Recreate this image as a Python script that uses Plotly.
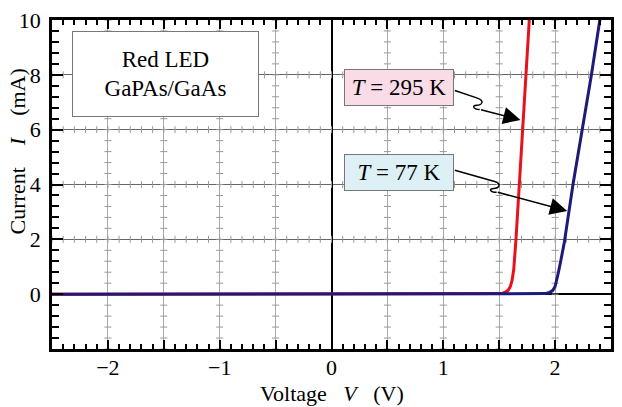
#%% IMPORTS
import numpy as np
import plotly.graph_objects as go

#%% DATA
# I-V curves of a red GaPAs/GaAs LED (V in volts, I in mA)
red_v = [-2.5, 1.48, 1.52, 1.55, 1.58, 1.60, 1.615, 1.63, 1.64, 1.65, 1.68, 1.71, 1.74, 1.77, 1.775]
red_i = [0.0, 0.0, 0.02, 0.06, 0.14, 0.28, 0.5, 0.9, 1.4, 2.0, 4.0, 6.0, 8.0, 10.0, 10.4]

blue_v = [-2.5, 1.86, 1.91, 1.95, 1.98, 2.00, 2.015, 2.03, 2.05, 2.083, 2.16, 2.245, 2.325, 2.40, 2.41]
blue_i = [0.0, 0.0, 0.02, 0.06, 0.14, 0.28, 0.5, 0.8, 1.2, 1.9, 4.0, 6.0, 8.0, 10.0, 10.3]

x_ticks = [-2.5, -2, -1.5, -1, -0.5, 0, 0.5, 1, 1.5, 2, 2.5]
x_labels = ['', '\u22122', '', '\u22121', '', '0', '', '1', '', '2', '']
y_ticks = [0, 2, 4, 6, 8, 10]
y_labels = ['0', '2', '4', '6', '8', '10']

#%% GEOMETRY HELPERS (pixel -> data, for annotation boxes and arrows)
W, H = 622, 407
L, R, T, B = 52, 8, 13, 58
XR, YR = (-2.5, 2.5), (-2, 10)

def px_x(px):
    return XR[0] + (px - L) / (W - L - R) * (XR[1] - XR[0])

def px_y(py):
    return YR[1] - (py - T) / (H - T - B) * (YR[1] - YR[0])

def px_path(cmds):
    out = []
    for c in cmds:
        if isinstance(c, str):
            out.append(c)
        else:
            out.append('%.4f,%.4f' % (px_x(c[0]), px_y(c[1])))
    return ' '.join(out)

FONT = 'Liberation Serif, Times New Roman, Times, serif'
NB = '\u00a0'

#%% FIGURE
fig = go.Figure()

# little cross ticks along the grid lines
grid_y = [2, 4, 6, 8]
grid_x = [-2, -1.5, -1, -0.5, 0.5, 1, 1.5, 2]
xs = np.round(np.arange(-2.5, 2.501, 0.1), 3)
ys = np.round(np.arange(-2, 10.001, 0.4), 3)
fig.add_trace(go.Scatter(
    x=np.tile(xs, len(grid_y)), y=np.repeat(grid_y, len(xs)),
    mode='markers', hoverinfo='skip', showlegend=False,
    marker=dict(symbol='line-ns', size=5, line=dict(width=1, color='#999'))))
fig.add_trace(go.Scatter(
    x=np.repeat(grid_x, len(ys)), y=np.tile(ys, len(grid_x)),
    mode='markers', hoverinfo='skip', showlegend=False,
    marker=dict(symbol='line-ew', size=5, line=dict(width=1, color='#999'))))

fig.add_trace(go.Scatter(x=red_v, y=red_i, mode='lines', showlegend=False,
                         line=dict(color='#e8121c', width=3)))
fig.add_trace(go.Scatter(x=blue_v, y=blue_i, mode='lines', showlegend=False,
                         line=dict(color='#1c1a7a', width=3)))

#%% LABEL BOXES
fig.add_annotation(x=px_x(166.5), y=px_y(68), xref='x', yref='y',
    text='Red LED<br>GaPAs/GaAs', showarrow=False,
    width=181, height=80, borderpad=2, borderwidth=1,
    bordercolor='#777', bgcolor='white',
    font=dict(family=FONT, size=23, color='black'))
fig.add_annotation(x=px_x(400.5), y=px_y(81.5), xref='x', yref='y',
    text='<i>T</i> = 295 K', showarrow=False,
    width=104, height=31, borderpad=2, borderwidth=1,
    bordercolor='#777', bgcolor='#fadce8',
    font=dict(family=FONT, size=23, color='black'))
fig.add_annotation(x=px_x(400.5), y=px_y(169), xref='x', yref='y',
    text='<i>T</i> = 77 K', showarrow=False,
    width=104, height=31, borderpad=2, borderwidth=1,
    bordercolor='#777', bgcolor='#dcf0f5',
    font=dict(family=FONT, size=23, color='black'))

#%% WAVY ARROWS
arrows = [
    # tail line + squiggle, squiggle end, arrow tip
    ([(457, 85), (479, 92.5)], [(488, 95.5), (484, 100), (479, 100), (474, 100), (475, 104), (482, 104.5)], (523, 115)),
    ([(457, 166.5), (497, 178)], [(505, 180.5), (501, 185), (496, 185), (491, 185), (492, 189), (499, 189)], (570, 208)),
]
for line, curl, tip in arrows:
    path = px_path(['M', line[0], 'L', line[1], 'C', curl[0], curl[1], curl[2],
                    'C', curl[3], curl[4], curl[5]])
    fig.add_shape(type='path', path=path, xref='x', yref='y',
                  line=dict(color='black', width=1.5))
    end = curl[5]
    fig.add_annotation(x=px_x(tip[0]), y=px_y(tip[1]), xref='x', yref='y',
        ax=end[0] - tip[0], ay=end[1] - tip[1], text='', showarrow=True,
        arrowhead=2, arrowsize=2.3, arrowwidth=1.5, arrowcolor='black', standoff=0)

#%% AXIS TITLES
fig.add_annotation(x=0.5, y=(H - B - 394) / (H - T - B), xref='paper', yref='paper',
    text='Voltage' + NB * 3 + '<i>V</i>' + NB * 3 + '(V)', showarrow=False,
    xanchor='center', yanchor='middle',
    font=dict(family=FONT, size=22, color='black'))
fig.add_annotation(x=(17 - L) / (W - L - R), y=(H - B - 147) / (H - T - B),
    xref='paper', yref='paper', textangle=-90,
    text='Current' + NB * 4 + '<i>I</i>' + NB * 4 + '(mA)', showarrow=False,
    xanchor='center', yanchor='middle',
    font=dict(family=FONT, size=22, color='black'))

#%% LAYOUT
axis_common = dict(
    showline=True, linecolor='black', linewidth=2.5, mirror='allticks',
    ticks='inside', tickcolor='black', tickwidth=1.5,
    showgrid=True, gridwidth=1,
    zeroline=True, zerolinecolor='black', zerolinewidth=2,
    tickfont=dict(family=FONT, size=22, color='black'),
    tickmode='array',
)
fig.update_xaxes(axis_common, range=XR, tickvals=x_ticks, ticktext=x_labels, ticklen=9,
                 gridcolor='#aaa', ticklabelstandoff=-3,
                 minor=dict(tickmode='linear', tick0=0, dtick=0.1, ticks='inside',
                            ticklen=5, tickwidth=1.5, tickcolor='black', showgrid=False))
fig.update_yaxes(axis_common, range=YR, tickvals=y_ticks, ticktext=y_labels, ticklen=11,
                 gridcolor='#666', ticklabelstandoff=4,
                 minor=dict(tickmode='linear', tick0=0, dtick=0.4, ticks='inside',
                            ticklen=7, tickwidth=1.5, tickcolor='black', showgrid=False))

fig.update_layout(
    width=W, height=H,
    margin=dict(l=L, r=R, t=T, b=B),
    plot_bgcolor='white', paper_bgcolor='white',
    font=dict(family=FONT, size=22, color='black'),
    showlegend=False,
)

# drop the default page margin so the figure sits at the window's corner
fig.write_html('out.html', config={'displayModeBar': False},
               post_script="document.body.style.margin='0px';")
